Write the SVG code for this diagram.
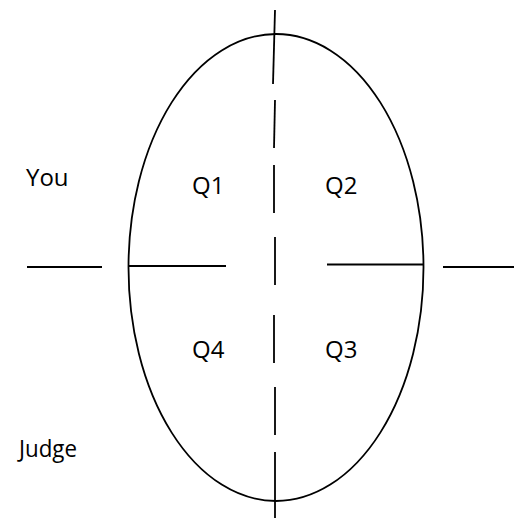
<svg xmlns="http://www.w3.org/2000/svg" width="514" height="520" viewBox="0 0 514 520">
<style>
.ln{stroke:#000;stroke-width:1.8;fill:none;stroke-linecap:butt}
.lbl{font-family:"Open Sans","Liberation Sans",sans-serif;font-size:24px;fill:#000}
</style>
<rect width="514" height="520" fill="#fff"/>
<g id="ellipse">
<ellipse class="ln" cx="276" cy="267.5" rx="147.5" ry="233.5"/>
</g>
<g id="connectors">
<g id="vertical-axis">
<line class="ln" x1="275" y1="10" x2="273" y2="84"/>
<line class="ln" x1="275" y1="100" x2="274" y2="148"/>
<line class="ln" x1="274" y1="165" x2="274" y2="213"/>
<line class="ln" x1="275" y1="237" x2="275" y2="285"/>
<line class="ln" x1="274" y1="315" x2="274" y2="363"/>
<line class="ln" x1="275" y1="387" x2="275" y2="435"/>
<line class="ln" x1="275" y1="452" x2="275" y2="518"/>
</g>
<g id="horizontal-axis">
<line class="ln" x1="27" y1="267" x2="102" y2="267"/>
<line class="ln" x1="129" y1="266" x2="226" y2="266"/>
<line class="ln" x1="327" y1="264.5" x2="423" y2="264.5"/>
<line class="ln" x1="443" y1="267" x2="514" y2="267"/>
</g>
</g>
<g id="you"><text class="lbl" x="26" y="186">You</text></g>
<g id="q1"><text class="lbl" x="192" y="194">Q1</text></g>
<g id="q2"><text class="lbl" x="325" y="194">Q2</text></g>
<g id="q4"><text class="lbl" x="192" y="358">Q4</text></g>
<g id="q3"><text class="lbl" x="325" y="358">Q3</text></g>
<g id="judge"><text class="lbl" x="19" y="457" textLength="58" lengthAdjust="spacingAndGlyphs">Judge</text></g>
</svg>
